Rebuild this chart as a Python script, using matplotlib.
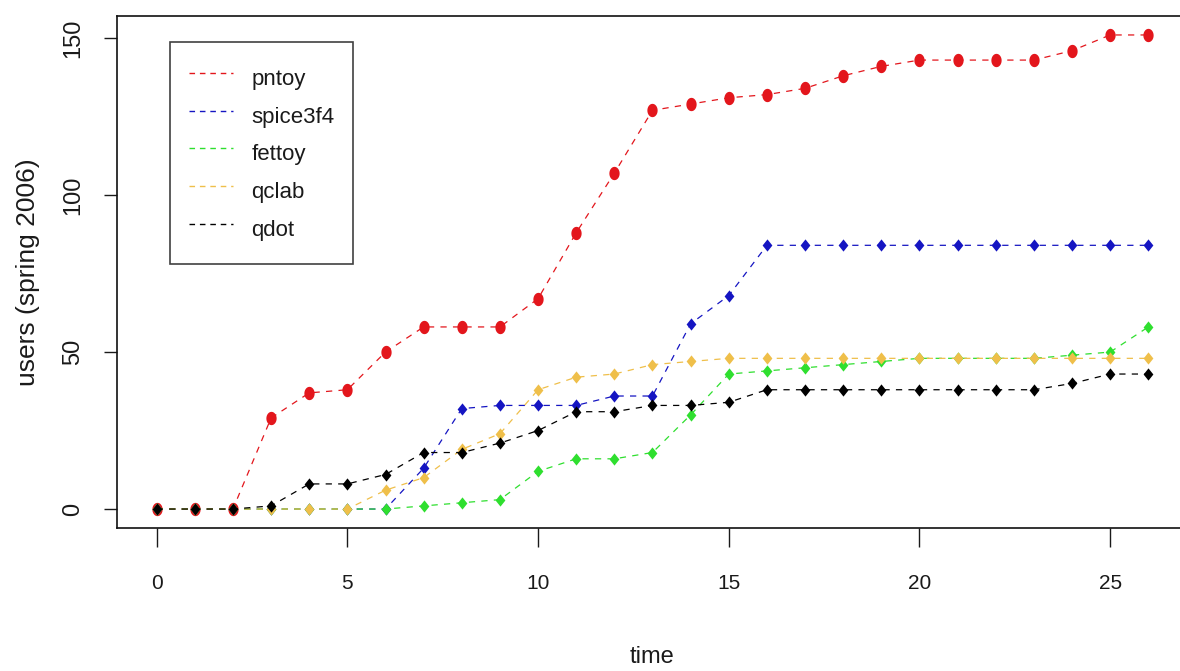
"""Users over time for five tools (spring 2006), R-style line+point chart."""

import numpy as np
import matplotlib
matplotlib.use("Agg")
import matplotlib.pyplot as plt
from matplotlib.lines import Line2D
from matplotlib.path import Path

time = list(range(27))

pntoy = [0, 0, 0, 29, 37, 38, 50, 58, 58, 58, 67, 88, 107, 127, 129, 131, 132, 134,
         138, 141, 143, 143, 143, 143, 146, 151, 151]
spice3f4 = [0, 0, 0, 0, 0, 0, 0, 13, 32, 33, 33, 33, 36, 36, 59, 68, 84, 84,
            84, 84, 84, 84, 84, 84, 84, 84, 84]
fettoy = [0, 0, 0, 0, 0, 0, 0, 1, 2, 3, 12, 16, 16, 18, 30, 43, 44, 45,
          46, 47, 48, 48, 48, 48, 49, 50, 58]
qclab = [0, 0, 0, 0, 0, 0, 6, 10, 19, 24, 38, 42, 43, 46, 47, 48, 48, 48,
         48, 48, 48, 48, 48, 48, 48, 48, 48]
qdot = [0, 0, 0, 1, 8, 8, 11, 18, 18, 21, 25, 31, 31, 33, 33, 34, 38, 38,
        38, 38, 38, 38, 38, 38, 40, 43, 43]

series = [
    ("pntoy", pntoy, "#e3161c"),
    ("spice3f4", spice3f4, "#1515c2"),
    ("fettoy", fettoy, "#2fdf2f"),
    ("qclab", qclab, "#efbf4a"),
    ("qdot", qdot, "#000000"),
]

x_ticks = [0, 5, 10, 15, 20, 25]
y_ticks = [0, 50, 100, 150]

# slightly tall markers, the source image is stretched vertically
theta = np.linspace(0, 2 * np.pi, 41)
ellipse = Path(np.column_stack([0.77 * np.cos(theta), np.sin(theta)]), closed=True)
diamond = Path([(0, 1), (0.8, 0), (0, -1), (-0.8, 0), (0, 1)], closed=True)

plt.rcParams["font.family"] = ["Liberation Sans", "DejaVu Sans"]
text_color = "#1a1a1a"

fig = plt.figure(figsize=(11.8, 6.71), dpi=100)
ax = fig.add_axes([117 / 1180, 143 / 671, 1071 / 1180, 512 / 671])

for name, values, color in series:
    marker, size = (ellipse, 9.6) if name == "pntoy" else (diamond, 8.8)
    ax.plot(time, values, color=color, linewidth=0.9, linestyle=(0, (5, 5)),
            marker=marker, markersize=size, markeredgewidth=0, markerfacecolor=color)

ax.set_xlim(-1.04, 27.04)
ax.set_ylim(-6.04, 157.04)
ax.set_xticks(x_ticks)
ax.set_yticks(y_ticks)
ax.tick_params(axis="x", length=14, width=1.0, pad=19, labelsize=15, colors=text_color)
ax.tick_params(axis="y", length=9.5, width=1.0, pad=14, labelsize=17, colors=text_color)
for label in ax.get_yticklabels():
    label.set_rotation(90)
    label.set_va("center")
for spine in ax.spines.values():
    spine.set_linewidth(1.2)
    spine.set_color("#111111")

ax.set_xlabel("time", fontsize=17, color=text_color, va="center")
ax.xaxis.set_label_coords(0.5, -0.252)
ax.set_ylabel("users (spring 2006)", fontsize=19, color=text_color, va="center")
ax.yaxis.set_label_coords(-0.083, 0.5)

handles = [Line2D([], [], color=color, linewidth=1.0, linestyle=(0, (4, 3.5)))
           for _, _, color in series]
legend = ax.legend(handles, [name for name, _, _ in series], loc="upper left",
                   bbox_to_anchor=(0.0495, 0.949), borderaxespad=0, fontsize=16,
                   frameon=True, fancybox=False, edgecolor="#111111",
                   handlelength=2.0, handleheight=1.93, handletextpad=0.8,
                   labelspacing=0.2, borderpad=0.85)
legend.get_frame().set_linewidth(1.2)
for text in legend.get_texts():
    text.set_color(text_color)

fig.savefig("out.png", dpi=100, facecolor="white")
